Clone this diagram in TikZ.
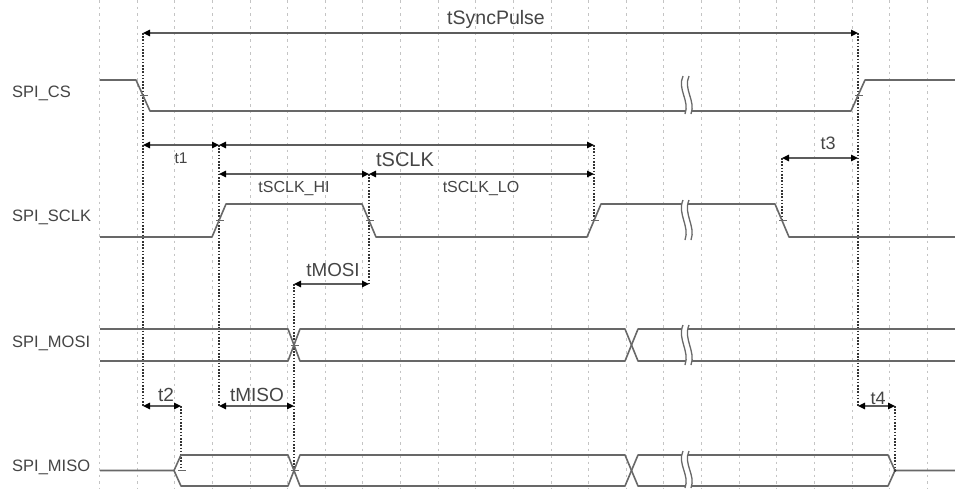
\documentclass[tikz,border=0pt]{standalone}
\usepackage{fontspec}
\setmainfont{Liberation Sans}
\usetikzlibrary{arrows.meta}
\definecolor{sig}{HTML}{686868}
\definecolor{txt}{HTML}{454545}
\definecolor{gridc}{HTML}{C4C4C4}
\definecolor{dimc}{HTML}{5C5C5C}
\tikzset{
  sigline/.style={draw=sig, line width=1.6pt, line join=round},
  gridline/.style={draw=gridc, line width=0.8pt, dash pattern=on 2.5pt off 4pt},
  marker/.style={draw=black!80, line width=1.1pt, dash pattern=on 1.6pt off 1.6pt},
  dimarrow/.style={draw=dimc, line width=1.5pt,
    {Triangle[length=7pt,width=6.5pt,color=black]}-{Triangle[length=7pt,width=6.5pt,color=black]}},
  siglabel/.style={anchor=west, inner sep=0pt, text=txt, font=\fontsize{16.5}{18}\selectfont},
  tlabel/.style={anchor=base, inner sep=0pt, text=txt},
  tickmark/.style={draw=sig, line width=1pt},
  breakline/.style={draw=sig, line width=1.3pt},
}
\newcommand\sigbreak[2]{%
  \pgfmathsetmacro\bmA{#1+0.35*(#2-#1)}%
  \pgfmathsetmacro\bmB{#1+0.65*(#2-#1)}%
  \fill[white] (683,#1) .. controls (677,\bmA) and (690,\bmB) .. (685,#2) -- (691,#2) .. controls (696,\bmB) and (683,\bmA) .. (689,#1) -- cycle;
  \draw[breakline] (683,#1) .. controls (677,\bmA) and (690,\bmB) .. (685,#2);
  \draw[breakline] (689,#1) .. controls (683,\bmA) and (696,\bmB) .. (691,#2);
}
\begin{document}
\begin{tikzpicture}[x=1pt,y=-1pt]
\useasboundingbox (0,0) rectangle (955,488);
\fill[white] (0,0) rectangle (955,488);
% grid
\foreach \k in {0,...,22} \draw[gridline] ({99.5+37.62*\k},0) -- ({99.5+37.62*\k},488);

% coordinates
\coordinate (syncL) at (143,33);  \coordinate (syncR) at (858,33);
\coordinate (tAl) at (143,145);   \coordinate (tAr) at (219,145);
\coordinate (sclkR) at (594,145);
\coordinate (hiL) at (219,174);   \coordinate (hiR) at (369,174);
\coordinate (loR) at (594,174);
\coordinate (tCl) at (782,158);   \coordinate (tCr) at (858,158);
\coordinate (mosiL) at (294,284); \coordinate (mosiR) at (369,284);
\coordinate (tBl) at (143,406);   \coordinate (tBr) at (181,406);
\coordinate (misoL) at (219,406); \coordinate (misoR) at (294,406);
\coordinate (tDl) at (858,406);   \coordinate (tDr) at (895,406);
\coordinate (csF) at (143,95.5);  \coordinate (csR) at (858,95.5);
\coordinate (ck1) at (219,220.5); \coordinate (ck2) at (369,220.5);
\coordinate (ck3) at (594,220.5); \coordinate (ck4) at (782,220.5);
\coordinate (mox) at (294,345);
\coordinate (miS) at (181,470.5); \coordinate (miX) at (294,470.5);
\coordinate (miE) at (895,470.5);

% marker lines
\draw[marker] (syncL) -- (tBl);
\draw[marker] (syncR) -- (tDl);
\draw[marker] (tAr) -- (misoL);
\draw[marker] (hiR) -- (mosiR);
\draw[marker] (sclkR) -- (ck3);
\draw[marker] (tCl) -- (ck4);
\draw[marker] (mosiL) -- (miX);
\draw[marker] (tBr) -- (miS);
\draw[marker] (tDr) -- (miE);

% waveforms
\draw[sigline] (100,80) -- (136,80) -- (150,111) -- (851,111) -- (865,80) -- (955,80);
\draw[sigline] (100,237) -- (212,237) -- (226,204) -- (362,204) -- (376,237) -- (587,237) -- (601,204) -- (775,204) -- (789,237) -- (955,237);
\draw[sigline] (100,329) -- (288,329) -- (300,361) -- (625,361) -- (638,329) -- (955,329);
\draw[sigline] (100,361) -- (288,361) -- (300,329) -- (625,329) -- (638,361) -- (955,361);
\draw[sigline] (100,470.5) -- (174,470.5) -- (181,455) -- (288,455) -- (300,486) -- (625,486) -- (638,455) -- (888,455) -- (895,470.5) -- (955,470.5);
\draw[sigline] (174,470.5) -- (181,486) -- (288,486) -- (300,455) -- (625,455) -- (638,486) -- (888,486) -- (895,470.5);

% breaks
\sigbreak{76}{114}
\sigbreak{200}{240}
\sigbreak{325}{365}
\sigbreak{451}{488}

% ticks at edges
\foreach \p in {csF,csR,ck1,ck2,ck3,ck4,mox,miS,miX}
  \draw[tickmark] ([xshift=-3pt]\p) -- ([xshift=5pt]\p);
\fill[black!80] (miE) circle (1.5pt);

% dimension arrows
\draw[dimarrow] (syncL) -- (syncR);
\draw[dimarrow] (tAl) -- (tAr);
\draw[dimarrow] (tAr) -- (sclkR);
\draw[dimarrow] (hiL) -- (hiR);
\draw[dimarrow] (hiR) -- (loR);
\draw[dimarrow] (tCl) -- (tCr);
\draw[dimarrow] (mosiL) -- (mosiR);
\draw[dimarrow] (tBl) -- (tBr);
\draw[dimarrow] (misoL) -- (misoR);
\draw[dimarrow] (tDl) -- (tDr);

% signal labels
\node[siglabel] (lcs) at (12,93) {SPI\_CS};
\node[siglabel] (lsclk) at (12,217) {SPI\_SCLK};
\node[siglabel] (lmosi) at (12,343) {SPI\_MOSI};
\node[siglabel] (lmiso) at (12,467) {SPI\_MISO};

% timing labels
\node[tlabel, font=\fontsize{19.5}{20}\selectfont] (lsync) at (496,24.5) {tSyncPulse};
\node[tlabel, font=\fontsize{15.5}{16}\selectfont] (lt1) at (181,163.5) {t1};
\node[tlabel, font=\fontsize{20}{22}\selectfont] (lsclkp) at (405,166) {tSCLK};
\node[tlabel, font=\fontsize{16}{18}\selectfont] (lhi) at (294,192.5) {tSCLK\_HI};
\node[tlabel, font=\fontsize{16}{18}\selectfont] (llo) at (481,192.5) {tSCLK\_LO};
\node[tlabel, font=\fontsize{18}{20}\selectfont] (lt3) at (828,149) {t3};
\node[tlabel, font=\fontsize{18.8}{20}\selectfont] (lmosit) at (333,276.5) {tMOSI};
\node[tlabel, font=\fontsize{19}{20}\selectfont] (lt2) at (166,401.5) {t2};
\node[tlabel, font=\fontsize{19}{20}\selectfont] (lmisot) at (257,401.5) {tMISO};
\node[tlabel, font=\fontsize{18}{20}\selectfont] (lt4) at (878,404) {t4};
\end{tikzpicture}
\end{document}
